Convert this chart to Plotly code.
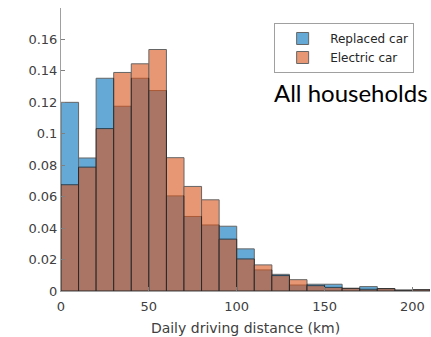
import plotly.graph_objects as go

bin_starts = [0, 10, 20, 30, 40, 50, 60, 70, 80, 90, 100, 110, 120, 130, 140, 150, 160, 170, 180, 190, 200]
bin_width = 10
replaced_car = [0.120, 0.0846, 0.1353, 0.1175, 0.1353, 0.1275, 0.0605, 0.0474, 0.042, 0.0412, 0.0268,
                0.0134, 0.0106, 0.0038, 0.0043, 0.0043, 0.0017, 0.0028, 0.0015, 0.0006, 0.0008]
electric_car = [0.0676, 0.0788, 0.1033, 0.139, 0.1445, 0.1536, 0.0848, 0.0665, 0.058, 0.033, 0.0204,
                0.0166, 0.0098, 0.0072, 0.0034, 0.0023, 0.0017, 0.0011, 0.0015, 0.0005, 0.0008]
y_ticks = [0, 0.02, 0.04, 0.06, 0.08, 0.1, 0.12, 0.14, 0.16]
y_tick_labels = ["0", "0.02", "0.04", "0.06", "0.08", "0.1", "0.12", "0.14", "0.16"]
x_ticks = [0, 50, 100, 150, 200]

centers = [s + bin_width / 2 for s in bin_starts]

fig = go.Figure()
fig.add_trace(go.Bar(x=centers, y=replaced_car, width=bin_width, name="Replaced car",
                     marker=dict(color="#0072BD", line=dict(color="black", width=1)),
                     opacity=0.6))
fig.add_trace(go.Bar(x=centers, y=electric_car, width=bin_width, name="Electric car",
                     marker=dict(color="#D95319", line=dict(color="black", width=1)),
                     opacity=0.6))

tick_font = dict(family="DejaVu Sans", size=13, color="#404040")
fig.update_layout(
    barmode="overlay",
    width=431, height=337,
    margin=dict(l=61, r=1, t=8, b=46),
    paper_bgcolor="white", plot_bgcolor="white",
    showlegend=True,
    legend=dict(x=0.957, y=0.947, xanchor="right", yanchor="top",
                bgcolor="white", bordercolor="#a0a0a0", borderwidth=1,
                font=dict(family="DejaVu Sans", size=12, color="#262626"),
                tracegroupgap=0, itemwidth=45),
    xaxis=dict(range=[0, 210], tickvals=x_ticks, ticks="inside", ticklen=4,
               tickcolor="#808080", showline=True, linecolor="#a0a0a0", linewidth=1,
               showgrid=False, zeroline=False, tickfont=tick_font, ticklabelstandoff=3,
               title=dict(text="Daily driving distance (km)", font=dict(family="DejaVu Sans", size=14, color="#404040"),
                          standoff=10)),
    yaxis=dict(range=[0, 0.18], tickvals=y_ticks, ticktext=y_tick_labels, ticks="inside", ticklen=4,
               tickcolor="#808080", showline=True, linecolor="#a0a0a0", linewidth=1,
               showgrid=False, zeroline=False, tickfont=tick_font),
    annotations=[dict(text="All households", xref="paper", yref="paper", x=1.0, y=0.70,
                      xanchor="right", yanchor="middle", showarrow=False,
                      font=dict(family="Lato", size=24, color="black"))],
)

fig.write_html("out.html")
